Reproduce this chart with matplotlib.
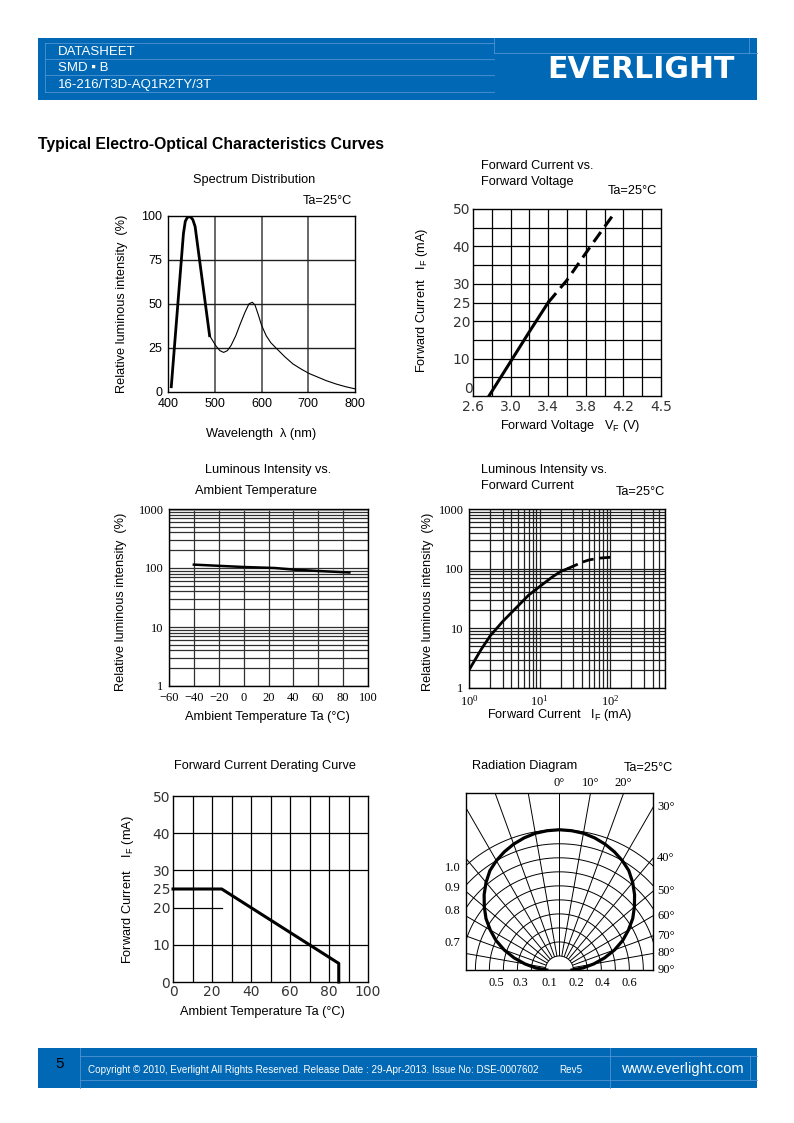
import numpy as np
import matplotlib
matplotlib.use('Agg')
import matplotlib.pyplot as plt
from matplotlib.patches import Rectangle, Wedge
from matplotlib.ticker import NullFormatter

plt.rcParams['font.family'] = ['Liberation Sans', 'DejaVu Sans']
plt.rcParams['mathtext.default'] = 'regular'

W, H = 794, 1123
BLUE = '#0068b4'
LINE = '#4f94d4'
SERIF = ['Liberation Serif', 'DejaVu Serif']

# --- data ---
# spectrum distribution (nm, %)
spec_peak_x = [407, 433, 437, 442, 448, 453, 458, 489]
spec_peak_y = [3, 90, 97, 99.5, 99.5, 98, 94, 32]
spec_tail_x = [489, 496, 503, 511, 519, 527, 535, 545, 555, 565, 573, 580, 586, 593,
               600, 610, 620, 631, 650, 667, 685, 702, 720, 738, 760, 780, 800]
spec_tail_y = [32, 29, 26, 23.5, 22.5, 23.5, 26.5, 32, 39, 45.5, 50, 51, 49.5, 44,
               38, 32, 28, 25, 20, 16, 13, 10.5, 8.5, 6.5, 4.5, 3, 1.8]

# forward current vs forward voltage (V, mA)
fv_solid_v = [2.77, 3.0, 3.2, 3.4]
fv_solid_i = [0, 9.2, 17.2, 25]
fv_dash_v = [3.4, 3.6, 3.85, 4.09]
fv_dash_i = [25, 31, 40, 48.4]

# luminous intensity vs ambient temperature (degC, %)
lt_temp = [-40, 0, 25, 40, 60, 85]
lt_int = [114, 104, 100, 94, 89, 84]

# luminous intensity vs forward current (mA, %)
li_solid_i = [1, 1.5, 2, 3, 5, 7, 10, 15, 20, 25]
li_solid_v = [2, 4.5, 7.5, 13, 24, 36, 50, 72, 90, 100]
li_dash_i = [25, 30, 40, 50, 70, 100]
li_dash_v = [100, 110, 128, 140, 150, 155]

# forward current derating curve (degC, mA)
der_temp = [0, 25, 85, 85]
der_cur = [25, 25, 5, 0]

# radiation diagram (deg, relative intensity)
rad_angle = [0, 5, 10, 15, 20, 25, 30, 35, 40, 45, 50, 55, 60, 65, 70, 75, 80, 85, 90]
rad_int = [1.0, 0.997, 0.99, 0.975, 0.955, 0.93, 0.9, 0.865, 0.815, 0.76, 0.70,
           0.64, 0.57, 0.5, 0.42, 0.335, 0.25, 0.17, 0.09]
rad_rings = [0.2, 0.3, 0.4, 0.5, 0.6, 0.7, 0.8, 0.9, 1.0]
rad_spokes = list(range(-90, 91, 10))
rad_left_labels = [1.0, 0.9, 0.8, 0.7]
rad_bottom_labels = ['0.5', '0.3', '0.1', '0.2', '0.4', '0.6']
rad_bottom_pos = [-0.45, -0.275, -0.07, 0.125, 0.31, 0.50]

fig = plt.figure(figsize=(W / 100, H / 100), dpi=100)
bg = fig.add_axes([0, 0, 1, 1])
bg.set_xlim(0, W)
bg.set_ylim(H, 0)
bg.axis('off')


def box(x0, y0, x1, y1):
    ax = fig.add_axes([x0 / W, 1 - y1 / H, (x1 - x0) / W, (y1 - y0) / H])
    for s in ax.spines.values():
        s.set_linewidth(1.0)
        s.set_color('black')
    ax.tick_params(which='both', length=0, labelsize=9, pad=4)
    return ax


# --- header ---
bg.add_patch(Rectangle((38, 38), 719, 62, color=BLUE, lw=0))
for y in [43, 59, 75, 92]:
    bg.plot([45, 494], [y, y], color=LINE, lw=0.6)
bg.plot([494, 757], [53, 53], color=LINE, lw=0.6)
bg.plot([45, 45], [43, 92], color=LINE, lw=0.6)
bg.plot([494, 494], [38, 53], color=LINE, lw=0.6)
bg.plot([749, 749], [38, 53], color=LINE, lw=0.6)
for y, s in [(52, 'DATASHEET'), (68, 'SMD \u25aa B'), (85, '16-216/T3D-AQ1R2TY/3T')]:
    bg.text(58, y, s, color='white', fontsize=9.5, va='center')
bg.text(641, 69, 'EVERLIGHT', color='white', fontsize=21.5, fontweight='heavy',
        family=['DejaVu Sans'], ha='center', va='center')

bg.text(38, 145, 'Typical Electro-Optical Characteristics Curves', fontsize=11.3,
        fontweight='bold', va='center')

# --- footer ---
bg.add_patch(Rectangle((38, 1048), 719, 40, color=BLUE, lw=0))
bg.plot([80, 80], [1048, 1088], color=LINE, lw=0.6)
bg.plot([610, 610], [1048, 1088], color=LINE, lw=0.6)
bg.plot([80, 757], [1056, 1056], color=LINE, lw=0.6)
bg.plot([80, 757], [1080, 1080], color=LINE, lw=0.6)
bg.plot([750, 750], [1056, 1080], color=LINE, lw=0.6)
bg.text(60, 1064, '5', fontsize=11, ha='center', va='center', color='black')
bg.text(88, 1070, 'Copyright \u00a9 2010, Everlight All Rights Reserved. Release Date : '
        '29-Apr-2013. Issue No: DSE-0007602', fontsize=7.1, color='white', va='center')
bg.text(559, 1070, 'Rev5', fontsize=7.1, color='white', va='center')
bg.text(682, 1069, 'www.everlight.com', fontsize=10.5, color='white', ha='center', va='center')

# --- 1. spectrum distribution ---
ax1 = box(168, 216, 355, 392)
ax1.set_xlim(400, 800)
ax1.set_ylim(0, 100)
ax1.set_xticks([400, 500, 600, 700, 800])
ax1.set_yticks([0, 25, 50, 75, 100])
for v in [500, 600, 700]:
    ax1.axvline(v, color='#404040', lw=1.1)
for v in [25, 50, 75]:
    ax1.axhline(v, color='#202020', lw=1.0)
ax1.plot(spec_tail_x, spec_tail_y, color='black', lw=0.8)
ax1.plot(spec_peak_x, spec_peak_y, color='black', lw=2.0, solid_joinstyle='round')
bg.text(254, 180, 'Spectrum Distribution', fontsize=9.2, ha='center', va='center')
bg.text(327, 201, 'Ta=25\u00b0C', fontsize=9.2, ha='center', va='center')
bg.text(122, 304, 'Relative luminous intensity  (%)', fontsize=9.2, rotation=90,
        ha='center', va='center')
bg.text(261, 434, 'Wavelength  \u03bb (nm)', fontsize=9.2, ha='center', va='center')

# --- 2. forward current vs forward voltage ---
ax2 = box(473, 209, 661, 396)
ax2.set_xlim(2.6, 4.6)
ax2.set_ylim(0, 50)
for v in np.arange(2.8, 4.5, 0.2):
    ax2.axvline(v, color='black', lw=0.9)
for v in range(5, 50, 5):
    ax2.axhline(v, color='black', lw=0.9)
ax2.set_xticks([2.6, 3.0, 3.4, 3.8, 4.2, 4.6])
ax2.set_xticklabels(['2.6', '3.0', '3.4', '3.8', '4.2', '4.5'])
ax2.set_yticks([10, 20, 25, 30, 40, 50])
ax2.tick_params(labelsize=10, pad=2)
ax2.tick_params(axis='x', pad=3)
ax2.text(2.6, 0, '0', family=['DejaVu Sans'], fontsize=10, color='#333333',
         ha='right', va='bottom')
for lbl in ax2.get_xticklabels() + ax2.get_yticklabels():
    lbl.set_family(['DejaVu Sans'])
    lbl.set_color('#333333')
ax2.plot(fv_solid_v, fv_solid_i, color='black', lw=2.2)
ax2.plot(fv_dash_v, fv_dash_i, color='black', lw=2.2, dashes=(4, 2.2))
bg.text(481, 166, 'Forward Current vs.', fontsize=9.2, va='center')
bg.text(481, 182, 'Forward Voltage', fontsize=9.2, va='center')
bg.text(632, 191, 'Ta=25\u00b0C', fontsize=9.2, ha='center', va='center')
bg.text(422, 300, 'Forward Current   I$_F$ (mA)', fontsize=9.2, rotation=90,
        ha='center', va='center')
bg.text(570, 426, 'Forward Voltage   V$_F$ (V)', fontsize=9.2, ha='center', va='center')

# --- 3. luminous intensity vs ambient temperature ---
ax3 = box(169, 509, 368, 686)
ax3.set_yscale('log')
ax3.set_xlim(-60, 100)
ax3.set_ylim(1, 1000)
ax3.set_xticks(list(range(-60, 101, 20)))
ax3.set_xticklabels([str(t).replace('-', '\u2212') for t in range(-60, 101, 20)],
                    family=SERIF)
ax3.set_yticks([1, 10, 100, 1000])
ax3.set_yticklabels(['1', '10', '100', '1000'], family=SERIF)
ax3.yaxis.set_minor_formatter(NullFormatter())
ax3.grid(True, which='both', axis='y', color='#303030', lw=0.9)
ax3.grid(True, which='major', axis='x', color='#303030', lw=0.9)
ax3.axhline(1000, color='#999999', lw=2)
ax3.plot(lt_temp, lt_int, color='black', lw=1.8)
bg.text(268, 470, 'Luminous Intensity vs.', fontsize=9.2, ha='center', va='center')
bg.text(256, 491, 'Ambient Temperature', fontsize=9.2, ha='center', va='center')
bg.text(121, 602, 'Relative luminous intensity  (%)', fontsize=9.2, rotation=90,
        ha='center', va='center')
bg.text(267, 717, 'Ambient Temperature Ta (\u00b0C)', fontsize=9.2, ha='center', va='center')

# --- 4. luminous intensity vs forward current ---
ax4 = box(469, 509, 665, 688)
ax4.set_xscale('log')
ax4.set_yscale('log')
ax4.set_xlim(1, 600)
ax4.set_ylim(1, 1000)
ax4.set_xticks([1, 10, 100])
ax4.set_xticklabels(['$10^0$', '$10^1$', '$10^2$'], family=SERIF)
ax4.set_yticks([1, 10, 100, 1000])
ax4.set_yticklabels(['1', '10', '100', '1000'], family=SERIF)
ax4.xaxis.set_minor_formatter(NullFormatter())
ax4.yaxis.set_minor_formatter(NullFormatter())
ax4.grid(True, which='both', color='#202020', lw=0.9)
ax4.plot(li_solid_i, li_solid_v, color='black', lw=2.0)
ax4.plot(li_dash_i, li_dash_v, color='black', lw=2.0, dashes=(4, 2))
bg.text(481, 470, 'Luminous Intensity vs.', fontsize=9.2, va='center')
bg.text(481, 486, 'Forward Current', fontsize=9.2, va='center')
bg.text(640, 492, 'Ta=25\u00b0C', fontsize=9.2, ha='center', va='center')
bg.text(428, 602, 'Relative luminous intensity  (%)', fontsize=9.2, rotation=90,
        ha='center', va='center')
bg.text(560, 715, 'Forward Current   I$_F$ (mA)', fontsize=9.2, ha='center', va='center')

# --- 5. forward current derating curve ---
ax5 = box(173, 796, 368, 982)
ax5.set_xlim(0, 100)
ax5.set_ylim(0, 50)
for v in range(10, 100, 10):
    ax5.axvline(v, color='black', lw=0.9)
for v in [10, 30, 40]:
    ax5.axhline(v, color='black', lw=0.9)
ax5.plot([0, 25], [20, 20], color='black', lw=0.9)
ax5.set_xticks(list(range(0, 101, 20)))
ax5.set_yticks([0, 10, 20, 25, 30, 40, 50])
ax5.tick_params(labelsize=10, pad=2)
for lbl in ax5.get_xticklabels() + ax5.get_yticklabels():
    lbl.set_family(['DejaVu Sans'])
    lbl.set_color('#333333')
ax5.plot(der_temp, der_cur, color='black', lw=2.2, clip_on=False)
bg.text(265, 766, 'Forward Current Derating Curve', fontsize=9.2, ha='center', va='center')
bg.text(128, 890, 'Forward Current    I$_F$ (mA)', fontsize=9.2, rotation=90,
        ha='center', va='center')
bg.text(262, 1012, 'Ambient Temperature Ta (\u00b0C)', fontsize=9.2, ha='center', va='center')

# --- 6. radiation diagram ---
ax6 = box(466, 793, 653, 970)
xl, xr, yt = -0.667, 0.669, 1.262
ax6.set_xlim(xl, xr)
ax6.set_ylim(0, yt)
ax6.set_xticks([])
ax6.set_yticks([])
t = np.radians(np.linspace(-90, 90, 361))
for r in rad_rings:
    ax6.plot(r * np.sin(t), r * np.cos(t), color='black', lw=0.7)
for a in rad_spokes:
    ar = np.radians(a)
    ax6.plot([0.1 * np.sin(ar), 3 * np.sin(ar)], [0.1 * np.cos(ar), 3 * np.cos(ar)],
             color='black', lw=0.7)
ax6.add_patch(Wedge((0, 0), 0.1, 0, 180, fc='white', ec='black', lw=0.7, zorder=3))
ang = np.radians(np.array([-a for a in rad_angle[::-1]] + rad_angle[1:]))
inten = np.array(rad_int[::-1] + rad_int[1:])
ax6.plot(inten * np.sin(ang), inten * np.cos(ang), color='black', lw=2.3, zorder=4)
for a in [0, 10, 20]:
    ax6.text(yt * np.tan(np.radians(a)), yt + 0.03, f'{a}\u00b0', family=SERIF,
             fontsize=9, ha='center', va='bottom')
for a in [30, 40, 50, 60, 70, 80, 90]:
    ax6.text(xr + 0.03, xr / np.tan(np.radians(a)), f'{a}\u00b0', family=SERIF,
             fontsize=9, ha='left', va='center')
for r in rad_left_labels:
    ax6.text(xl - 0.04, np.sqrt(r ** 2 - xl ** 2) - 0.02, f'{r:.1f}', family=SERIF,
             fontsize=9, ha='right', va='center')
for x, s in zip(rad_bottom_pos, rad_bottom_labels):
    ax6.text(x, -0.09, s, family=SERIF, fontsize=9, ha='center', va='center')
bg.text(525, 766, 'Radiation Diagram', fontsize=9.2, ha='center', va='center')
bg.text(648, 768, 'Ta=25\u00b0C', fontsize=9.2, ha='center', va='center')

fig.savefig('out.png', dpi=100)
